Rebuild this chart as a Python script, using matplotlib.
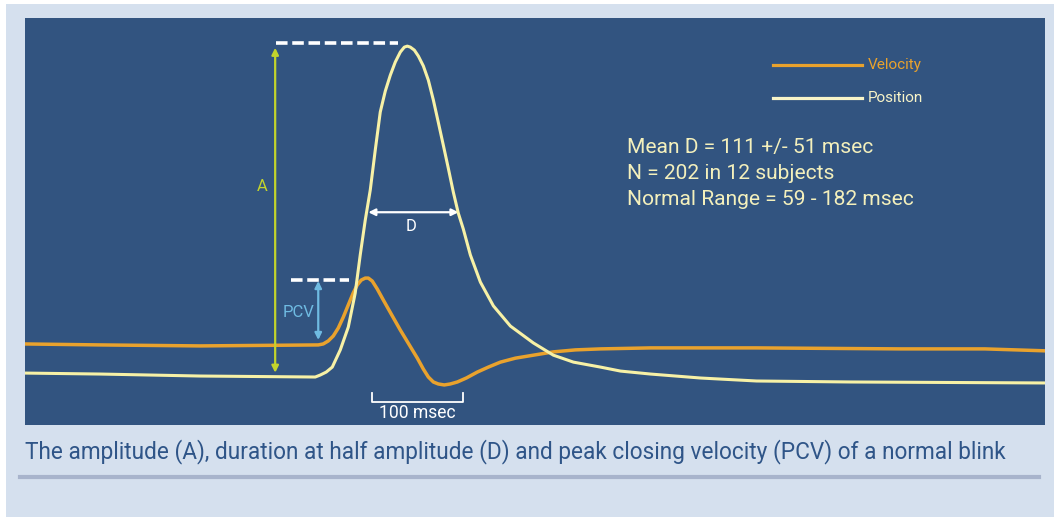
import matplotlib
matplotlib.use("Agg")
import matplotlib.pyplot as plt
from matplotlib.patches import Rectangle

plt.rcParams['font.family'] = ['Roboto', 'DejaVu Sans']

# eyelid position, % of blink amplitude (time in msec)
pos_t = [-2.2, 82.4, 192.3, 318.7, 324.2, 330.8, 337.4, 346.2, 355.0, 362.6, 368.1, 373.6, 379.1, 384.6,
         390.1, 395.6, 401.1, 406.6, 412.1, 416.5, 419.8, 423.1, 427.5, 431.9, 437.4, 442.9, 448.4, 453.8,
         459.3, 464.8, 470.3, 475.8, 481.3, 489.0, 500.0, 514.3, 533.0, 558.2, 580.2, 602.2, 631.9, 653.8,
         686.8, 741.8, 803.3, 906.6, 1122.0]
pos_a = [1.2, 0.9, 0.3, 0, 0.6, 1.5, 3.0, 8.2, 15.1, 25.4, 36.9, 47.4, 56.5, 68.6,
         80.1, 86.4, 91.2, 95.2, 98.2, 99.7, 100, 99.7, 98.8, 97.0, 94.0, 89.7, 83.7, 77.0,
         70.1, 63.1, 55.9, 49.5, 44.7, 36.9, 28.7, 21.5, 15.4, 10.3, 6.6, 4.5, 3.0, 1.8,
         0.9, -0.3, -1.2, -1.5, -1.8]

# lid velocity, same arbitrary scale
vel_t = [-2.2, 82.4, 192.3, 322.0, 327.5, 333.0, 338.5, 344.0, 349.5, 355.0, 360.4, 364.8, 369.2, 373.6,
         377.0, 381.3, 386.8, 393.4, 402.2, 412.1, 422.0, 430.8, 437.4, 442.9, 448.4, 453.8, 460.4, 467.0,
         474.7, 484.6, 496.7, 508.8, 522.0, 538.5, 558.2, 580.2, 604.4, 631.9, 686.8, 803.3, 961.5, 1053.8,
         1122.0]
vel_a = [10.0, 9.7, 9.4, 9.7, 10.0, 10.9, 12.4, 14.8, 18.1, 21.8, 25.4, 27.8, 29.3, 29.9,
         29.9, 29.0, 26.6, 23.3, 19.0, 14.2, 9.7, 5.7, 2.4, 0, -1.5, -2.1, -2.4, -2.1,
         -1.5, -0.3, 1.5, 3.0, 4.5, 5.7, 6.6, 7.6, 8.2, 8.5, 8.8, 8.8, 8.5, 8.5,
         7.9]

stats = ["Mean D = 111 +/- 51 msec", "N = 202 in 12 subjects", "Normal Range = 59 - 182 msec"]
caption = "The amplitude (A), duration at half amplitude (D) and peak closing velocity (PCV) of a normal blink"

W, H = 1056, 517
fig = plt.figure(figsize=(W / 100, H / 100), dpi=100, facecolor='white')
fig.patches.append(Rectangle((6 / W, 0), 1048 / W, 513 / H, transform=fig.transFigure,
                             facecolor='#d5e0ee', edgecolor='none', zorder=-5))

ax = fig.add_axes([25 / W, (H - 425) / H, 1020 / W, 407 / H])
ax.set_zorder(2)
ax.set_facecolor('#325480')
ax.set_xlim(0, 1120)
ax.set_ylim(-14.5, 108.5)
for s in ax.spines.values():
    s.set_visible(False)
ax.set_xticks([])
ax.set_yticks([])

orange = '#e9a22d'
cream = '#f7f1a6'
white = 'white'

ax.plot(vel_t, vel_a, color=orange, lw=2.5, solid_joinstyle='round', zorder=3)
ax.plot(pos_t, pos_a, color=cream, lw=2.2, solid_joinstyle='round', zorder=4)

# amplitude A
ax.annotate('', xy=(274.7, 99.5), xytext=(274.7, 1.3),
            arrowprops=dict(arrowstyle='<|-|>', color='#c3d42c', lw=1.6, mutation_scale=10, shrinkA=0, shrinkB=0))
ax.text(260, 57.7, 'A', color='#c3d42c', fontsize=12, ha='center', va='center')
ax.plot([276, 410], [100.8, 100.8], color=white, lw=2.6, dashes=(3.2, 1.3))

# PCV
ax.plot([292, 356], [29.3, 29.3], color=white, lw=2.6, dashes=(3.2, 1.3))
ax.annotate('', xy=(322, 29.0), xytext=(322, 11.2),
            arrowprops=dict(arrowstyle='<|-|>', color='#6fbbe2', lw=1.6, mutation_scale=10, shrinkA=0, shrinkB=0))
ax.text(300, 19.6, 'PCV', color='#6fbbe2', fontsize=12, ha='center', va='center')

# D
ax.annotate('', xy=(377, 49.8), xytext=(476, 49.8),
            arrowprops=dict(arrowstyle='<|-|>', color=white, lw=1.6, mutation_scale=10, shrinkA=0, shrinkB=0))
ax.text(424, 45.4, 'D', color=white, fontsize=12, ha='center', va='center')

# 100 msec scale bar
ax.plot([381, 381, 481, 481], [-4.8, -7.6, -7.6, -4.8], color=white, lw=1.3)
t100 = ax.text(431, -10.8, '100 msec', color=white, fontsize=13, ha='center', va='center')

# legend
ax.plot([821, 919], [94.3, 94.3], color=orange, lw=2.3)
tv = ax.text(925, 94.3, 'Velocity', color=orange, fontsize=12.5, va='center')
ax.plot([821, 919], [84.3, 84.3], color='#f8f4c8', lw=2.3)
tp = ax.text(925, 84.3, 'Position', color='#f8f4c8', fontsize=12.5, va='center')

st = []
for i, line in enumerate(stats):
    st.append(ax.text(661.5, 69.5 - 8.0 * i, line, color='#f4f0bc', fontsize=16.5, va='center'))

cap = fig.text(25 / W, (H - 452) / H, caption, color='#2f5588', fontsize=19, va='center')
fig.add_artist(plt.Line2D([20 / W, 1039 / W], [(H - 477) / H] * 2, transform=fig.transFigure,
                          color='#a8b4cc', lw=3))

# fit text widths to the reference (condensed face not available)
r = fig.canvas.get_renderer()
def fit(t, px):
    w = t.get_window_extent(r).width
    t.set_fontsize(t.get_fontsize() * px / w)
fit(cap, 983)
fit(t100, 77)
fit(tv, 54)
tp.set_fontsize(tv.get_fontsize())
fit(st[0], 245)
for t in st[1:]:
    t.set_fontsize(st[0].get_fontsize())

fig.savefig('out.png', dpi=100, facecolor=fig.get_facecolor())
